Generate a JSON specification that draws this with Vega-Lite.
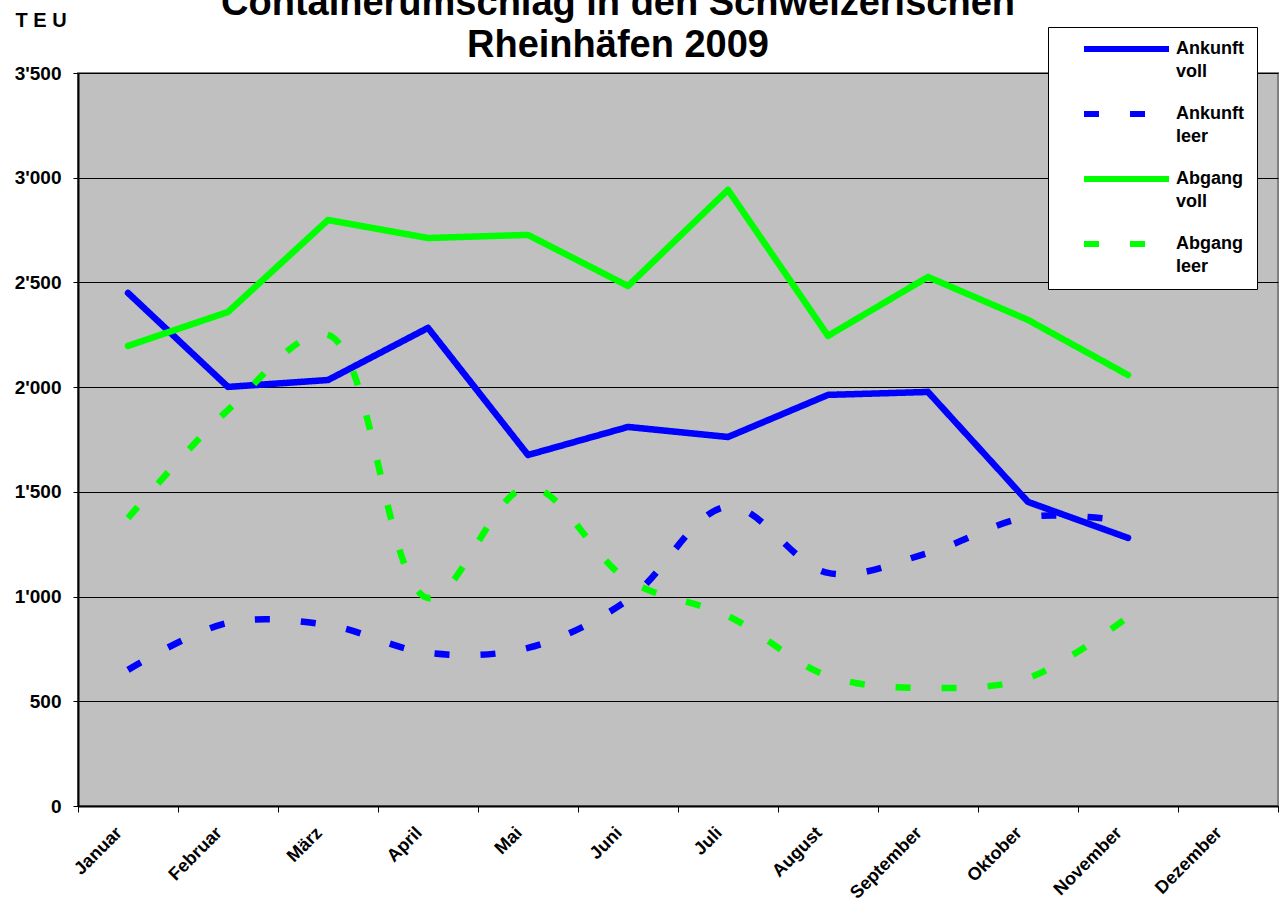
{
  "$schema": "https://vega.github.io/schema/vega-lite/v6.json",
  "width": 1200,
  "height": 733,
  "autosize": {"type": "none"},
  "padding": {"left": 78, "top": 73, "right": 2, "bottom": 113},
  "background": "white",
  "config": {
    "font": "Liberation Sans",
    "view": {"fill": "#C0C0C0", "stroke": "#808080", "strokeWidth": 2},
    "style": {"guide-label": {"lineHeight": 23}}
  },
  "title": {
    "text": ["Containerumschlag in den Schweizerischen", "Rheinhäfen 2009"],
    "fontSize": 38,
    "font": "Liberation Sans",
    "fontWeight": "bold",
    "color": "black",
    "lineHeight": 42,
    "anchor": "middle",
    "baseline": "bottom",
    "dx": -60,
    "offset": -93
  },
  "data": {
    "values": [
      {"month": "Januar", "series": "Ankunft voll", "value": 2450},
      {"month": "Februar", "series": "Ankunft voll", "value": 2001},
      {"month": "März", "series": "Ankunft voll", "value": 2034},
      {"month": "April", "series": "Ankunft voll", "value": 2283},
      {"month": "Mai", "series": "Ankunft voll", "value": 1676},
      {"month": "Juni", "series": "Ankunft voll", "value": 1810},
      {"month": "Juli", "series": "Ankunft voll", "value": 1762},
      {"month": "August", "series": "Ankunft voll", "value": 1963},
      {"month": "September", "series": "Ankunft voll", "value": 1977},
      {"month": "Oktober", "series": "Ankunft voll", "value": 1452},
      {"month": "November", "series": "Ankunft voll", "value": 1280},
      {"month": "Januar", "series": "Ankunft leer", "value": 650},
      {"month": "Februar", "series": "Ankunft leer", "value": 875},
      {"month": "März", "series": "Ankunft leer", "value": 864},
      {"month": "April", "series": "Ankunft leer", "value": 731},
      {"month": "Mai", "series": "Ankunft leer", "value": 755},
      {"month": "Juni", "series": "Ankunft leer", "value": 984},
      {"month": "Juli", "series": "Ankunft leer", "value": 1430},
      {"month": "August", "series": "Ankunft leer", "value": 1113},
      {"month": "September", "series": "Ankunft leer", "value": 1208},
      {"month": "Oktober", "series": "Ankunft leer", "value": 1380},
      {"month": "November", "series": "Ankunft leer", "value": 1360},
      {"month": "Januar", "series": "Abgang voll", "value": 2197},
      {"month": "Februar", "series": "Abgang voll", "value": 2359},
      {"month": "März", "series": "Abgang voll", "value": 2798},
      {"month": "April", "series": "Abgang voll", "value": 2712},
      {"month": "Mai", "series": "Abgang voll", "value": 2727},
      {"month": "Juni", "series": "Abgang voll", "value": 2483},
      {"month": "Juli", "series": "Abgang voll", "value": 2942},
      {"month": "August", "series": "Abgang voll", "value": 2245},
      {"month": "September", "series": "Abgang voll", "value": 2526},
      {"month": "Oktober", "series": "Abgang voll", "value": 2321},
      {"month": "November", "series": "Abgang voll", "value": 2058},
      {"month": "Januar", "series": "Abgang leer", "value": 1375},
      {"month": "Februar", "series": "Abgang leer", "value": 1891},
      {"month": "März", "series": "Abgang leer", "value": 2250},
      {"month": "April", "series": "Abgang leer", "value": 993},
      {"month": "Mai", "series": "Abgang leer", "value": 1523},
      {"month": "Juni", "series": "Abgang leer", "value": 1079},
      {"month": "Juli", "series": "Abgang leer", "value": 907},
      {"month": "August", "series": "Abgang leer", "value": 621},
      {"month": "September", "series": "Abgang leer", "value": 564},
      {"month": "Oktober", "series": "Abgang leer", "value": 611},
      {"month": "November", "series": "Abgang leer", "value": 903}
    ]
  },
  "encoding": {
    "x": {
      "field": "month",
      "type": "nominal",
      "scale": {
        "domain": ["Januar", "Februar", "März", "April", "Mai", "Juni", "Juli", "August", "September", "Oktober", "November", "Dezember"],
        "paddingInner": 0,
        "paddingOuter": 0
      },
      "axis": {
        "title": null,
        "labelAngle": -45,
        "labelAlign": "right",
        "labelBaseline": "middle",
        "labelFontSize": 18,
        "labelFontWeight": "bold",
        "labelColor": "black",
        "labelPadding": 18,
        "labelOffset": -9,
        "tickBand": "extent",
        "tickColor": "black",
        "tickSize": 6,
        "domainColor": "black",
        "domainWidth": 2,
        "grid": false
      }
    },
    "y": {
      "field": "value",
      "type": "quantitative",
      "scale": {"domain": [0, 3500], "nice": false},
      "axis": {
        "values": [0, 500, 1000, 1500, 2000, 2500, 3000, 3500],
        "labelExpr": "replace(format(datum.value, ','), ',', \"'\")",
        "labelFontSize": 19,
        "labelFontWeight": "bold",
        "labelColor": "black",
        "labelPadding": 12,
        "tickColor": "black",
        "tickSize": 5,
        "domainColor": "black",
        "domainWidth": 2,
        "grid": true,
        "gridColor": "black",
        "gridWidth": 1,
        "gridOpacity": 1,
        "title": "T E U",
        "titleAngle": 0,
        "titleAlign": "left",
        "titleBaseline": "middle",
        "titleFontSize": 20,
        "titleFontWeight": "bold",
        "titleColor": "black",
        "titleX": -63,
        "titleY": -53
      }
    },
    "color": {
      "field": "series",
      "type": "nominal",
      "scale": {
        "domain": ["Ankunft voll", "Ankunft leer", "Abgang voll", "Abgang leer"],
        "range": ["#0000FF", "#0000FF", "#00FF00", "#00FF00"]
      },
      "legend": {
        "orient": "none",
        "legendX": 970,
        "legendY": -46,
        "title": null,
        "fillColor": "white",
        "strokeColor": "black",
        "padding": 13,
        "symbolOffset": 56.5,
        "symbolType": "M-21.25,0H21.25",
        "symbolSize": 16,
        "symbolStrokeWidth": 6,
        "labelFontSize": 18,
        "labelFontWeight": "bold",
        "labelColor": "black",
        "labelOffset": 40.5,
        "labelExpr": "[split(datum.label, ' ')[0] + '     ', split(datum.label, ' ')[1]]",
        "rowPadding": 21
      }
    },
    "strokeDash": {
      "field": "series",
      "type": "nominal",
      "scale": {
        "domain": ["Ankunft voll", "Ankunft leer", "Abgang voll", "Abgang leer"],
        "range": [[1, 0], [15, 31], [1, 0], [15, 31]]
      }
    }
  },
  "layer": [
    {
      "transform": [{"filter": "indexof(datum.series, 'voll') >= 0"}],
      "mark": {"type": "line", "strokeWidth": 6.5, "strokeCap": "round", "strokeJoin": "round", "interpolate": "linear"}
    },
    {
      "transform": [{"filter": "indexof(datum.series, 'leer') >= 0"}],
      "mark": {"type": "line", "strokeWidth": 6.5, "strokeCap": "butt", "interpolate": "catmull-rom"}
    }
  ]
}
